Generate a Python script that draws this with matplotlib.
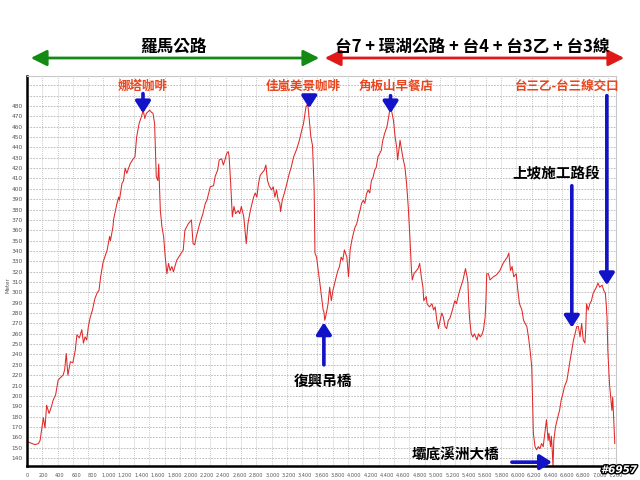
import matplotlib
matplotlib.use('Agg')
import matplotlib.pyplot as plt
from matplotlib.ticker import MultipleLocator, FuncFormatter
import matplotlib.patheffects as pe

plt.rcParams['font.family'] = ['DejaVu Sans']
CJK = ['Noto Sans CJK TC', 'DejaVu Sans']

# distance (m) and elevation (m)
dist = [0, 60, 100, 140, 160, 200, 220, 240, 270, 300, 320, 350, 380, 400, 440, 460, 480, 500,
        530, 560, 590, 610, 640, 670, 690, 710, 730, 750, 770, 800, 830, 860, 880, 900, 930,
        950, 980, 1010, 1020, 1050, 1060, 1100, 1120, 1130, 1160, 1180, 1200, 1220, 1260, 1290,
        1320, 1340, 1370, 1400, 1420, 1440, 1460, 1500, 1520, 1540, 1560, 1580, 1600, 1610,
        1620, 1630, 1650, 1670, 1690, 1710, 1730, 1750, 1770, 1790, 1830, 1870, 1910, 1930,
        1950, 1970, 2010, 2030, 2050, 2070, 2090, 2110, 2150, 2180, 2200, 2230, 2240, 2280,
        2300, 2330, 2350, 2380, 2400, 2420, 2440, 2460, 2470, 2490, 2510, 2530, 2550, 2580,
        2600, 2620, 2650, 2680, 2700, 2730, 2770, 2790, 2810, 2830, 2850, 2870, 2900, 2920,
        2940, 2960, 2990, 3010, 3030, 3050, 3070, 3090, 3100, 3120, 3150, 3170, 3200, 3230,
        3260, 3300, 3330, 3360, 3380, 3410, 3430, 3440, 3470, 3490, 3510, 3520, 3540, 3560,
        3580, 3600, 3620, 3630, 3640, 3660, 3680, 3700, 3720, 3740, 3780, 3800, 3820, 3840,
        3860, 3880, 3910, 3930, 3950, 3970, 3990, 4010, 4030, 4050, 4070, 4090, 4110, 4130,
        4150, 4170, 4190, 4210, 4230, 4250, 4270, 4290, 4310, 4330, 4350, 4370, 4400, 4420,
        4440, 4460, 4480, 4500, 4520, 4530, 4550, 4560, 4580, 4600, 4620, 4640, 4660, 4680,
        4700, 4710, 4730, 4760, 4780, 4800, 4820, 4840, 4850, 4880, 4890, 4920, 4950, 4970,
        4990, 5010, 5030, 5050, 5070, 5090, 5110, 5130, 5150, 5170, 5190, 5210, 5230, 5250,
        5270, 5290, 5330, 5360, 5380, 5390, 5400, 5410, 5420, 5430, 5450, 5470, 5500, 5520,
        5540, 5560, 5580, 5600, 5610, 5620, 5640, 5660, 5700, 5740, 5780, 5820, 5870, 5890,
        5910, 5930, 5950, 5980, 6000, 6020, 6050, 6070, 6110, 6130, 6150, 6170, 6180, 6190,
        6210, 6230, 6250, 6270, 6290, 6310, 6330, 6350, 6370, 6380, 6400, 6410, 6420, 6430,
        6440, 6460, 6490, 6510, 6530, 6550, 6570, 6600, 6620, 6640, 6660, 6680, 6700, 6720,
        6740, 6760, 6780, 6800, 6820, 6830, 6840, 6860, 6880, 6900, 6920, 6940, 6960, 6980,
        7000, 7030, 7050, 7070, 7080, 7090, 7100, 7120, 7150, 7160, 7170, 7185]
elev = [156, 154, 153, 154, 157, 179, 169, 191, 183, 190, 196, 201, 215, 217, 220, 225, 241, 220,
        233, 232, 244, 259, 256, 264, 251, 257, 254, 267, 275, 283, 294, 300, 302, 315, 329,
        334, 341, 354, 350, 363, 371, 386, 392, 389, 405, 408, 420, 415, 424, 428,
        431, 450, 463, 470, 476, 468, 473, 476, 474, 473, 463, 412, 408, 424,
        402, 379, 363, 354, 334, 318, 328, 321, 325, 320, 331, 336, 341, 360,
        363, 366, 370, 347, 346, 354, 360, 366, 376, 386, 389, 399, 402, 403,
        412, 418, 428, 429, 423, 428, 434, 436, 432, 405, 373, 383, 376, 379,
        376, 383, 373, 347, 366, 379, 392, 396, 392, 405, 413, 415, 418, 423,
        408, 403, 399, 402, 392, 399, 389, 386, 378, 389, 397, 403, 413, 421,
        431, 439, 447, 457, 463, 479, 482, 476, 450, 442, 400, 338, 334, 321,
        309, 296, 283, 281, 273, 280, 289, 305, 292, 302, 315, 321, 325, 334,
        331, 341, 334, 315, 341, 350, 357, 363, 366, 373, 379, 386, 389, 386,
        395, 399, 396, 408, 411, 418, 421, 431, 434, 437, 447, 453, 460, 469,
        479, 474, 466, 450, 440, 428, 440, 447, 437, 428, 421, 405, 383, 354,
        321, 312, 318, 321, 323, 328, 315, 305, 292, 296, 289, 286, 289, 283,
        286, 273, 265, 273, 280, 276, 267, 265, 273, 275, 280, 286, 292, 289,
        296, 302, 312, 323, 315, 309, 289, 275, 267, 260, 257, 260, 254, 260,
        257, 259, 264, 276, 292, 318, 318, 312, 315, 317, 321, 328, 334, 338,
        321, 325, 315, 318, 302, 289, 283, 273, 267, 257, 244, 228, 196, 164,
        151, 148, 151, 149, 154, 151, 164, 177, 157, 164, 151, 161, 148, 132,
        157, 170, 180, 186, 196, 202, 209, 215, 225, 235, 244, 254, 260, 267,
        267, 257, 270, 254, 251, 264, 289, 283, 289, 292, 299, 302, 305, 309,
        305, 307, 302, 299, 289, 276, 244, 212, 186, 199, 180, 154]

# annotations: (text, text x, text y, arrow start, arrow end)
red_labels = ['娜塔咖啡', '佳嵐美景咖啡', '角板山早餐店', '台三乙-台三線交口']
red_label_x = [1418, 3373, 4509, 6600]
red_arrows = [((1418, 492), (1418, 473)), ((3450, 490), (3450, 478)),
              ((4444, 490), (4444, 473)), ((7088, 490), (7088, 307))]
black_labels = ['上坡施工路段', '復興吊橋', '壩底溪洲大橋']
black_label_xy = [(6464, 415), (3617, 215), (5242, 143)]
black_arrows = [((6660, 403), (6660, 266)), ((3629, 230), (3629, 271)),
                ((5927, 136), (6416, 136))]

fig = plt.figure(figsize=(6.4, 4.8), dpi=100)
ax = fig.add_axes([27 / 640, 1 - 466 / 480, 589 / 640, 390 / 480])

ax.plot(dist, elev, color='#e02828', lw=0.75)

ax.set_xlim(0, 7200)
ax.set_ylim(132.3, 509)
ax.set_xticks(range(0, 7201, 200))
ax.xaxis.set_major_formatter(FuncFormatter(lambda v, p: '{:,}'.format(int(v))))
ax.xaxis.set_minor_locator(MultipleLocator(186.9))
ax.set_yticks(range(140, 481, 10))
ax.set_yticks([490, 500], minor=True)
ax.tick_params(axis='both', which='both', length=0, colors='#555555')
ax.tick_params(axis='x', labelsize=3.6, pad=5)
ax.tick_params(axis='y', labelsize=4.2, pad=3)

ax.grid(axis='y', which='both', color='#b4b4b4', lw=0.6, linestyle=(0, (2, 1.5)))
ax.grid(axis='x', which='minor', color='#b4b4b4', lw=0.6, linestyle=(0, (1, 1.5)))
ax.grid(axis='x', which='major', visible=False)

for s in ['top', 'right']:
    ax.spines[s].set_color('#c8c8c8')
    ax.spines[s].set_linewidth(0.8)
for s in ['left', 'bottom']:
    ax.spines[s].set_color('black')
    ax.spines[s].set_linewidth(1.8)

fig.text(8 / 640, 1 - 285 / 480, 'Meter', rotation=90, fontsize=4, color='#555555',
         ha='center', va='center')

blue = '#1212c8'
for lab, x in zip(red_labels, red_label_x):
    ax.text(x, 499, lab, color='#e8461e', fontsize=9, fontweight='bold', family=CJK,
            ha='center', va='center', clip_on=False)
for (a, b) in red_arrows:
    ax.annotate('', xy=b, xytext=a, annotation_clip=False,
                arrowprops=dict(arrowstyle='-|>,head_length=0.7,head_width=0.45', lw=2.6,
                                color=blue, mutation_scale=10, shrinkA=0, shrinkB=0))
for lab, (x, y) in zip(black_labels, black_label_xy):
    ax.text(x, y, lab, color='black', fontsize=10.5, fontweight='bold', family=CJK,
            ha='center', va='center', clip_on=False)
for (a, b) in black_arrows:
    ax.annotate('', xy=b, xytext=a, annotation_clip=False,
                arrowprops=dict(arrowstyle='-|>,head_length=0.7,head_width=0.45', lw=2.6,
                                color=blue, mutation_scale=10, shrinkA=0, shrinkB=0))

# header arrows
ya = 1 - 58 / 480
fig.add_artist(matplotlib.patches.FancyArrowPatch(
    (28 / 640, ya), (322 / 640, ya), transform=fig.transFigure,
    arrowstyle='<|-|>,head_length=0.8,head_width=0.4', mutation_scale=12,
    color='#138a13', lw=2))
fig.add_artist(matplotlib.patches.FancyArrowPatch(
    (322 / 640, ya), (627 / 640, ya), transform=fig.transFigure,
    arrowstyle='<|-|>,head_length=0.8,head_width=0.4', mutation_scale=12,
    color='#e01818', lw=2))
fig.text(173 / 640, 1 - 47 / 480, '羅馬公路', fontsize=12, fontweight='bold', family=CJK,
         ha='center', va='center')
fig.text(472 / 640, 1 - 47 / 480, '台7 + 環湖公路 + 台4 + 台3乙 + 台3線', fontsize=12,
         fontweight='bold', family=CJK, ha='center', va='center')

fig.text(619 / 640, 1 - 470 / 480, '#6957', fontsize=7.5, fontweight='bold', style='italic',
         color='white', ha='center', va='center',
         path_effects=[pe.withStroke(linewidth=2, foreground='black')])

fig.savefig('out.png', dpi=100)
